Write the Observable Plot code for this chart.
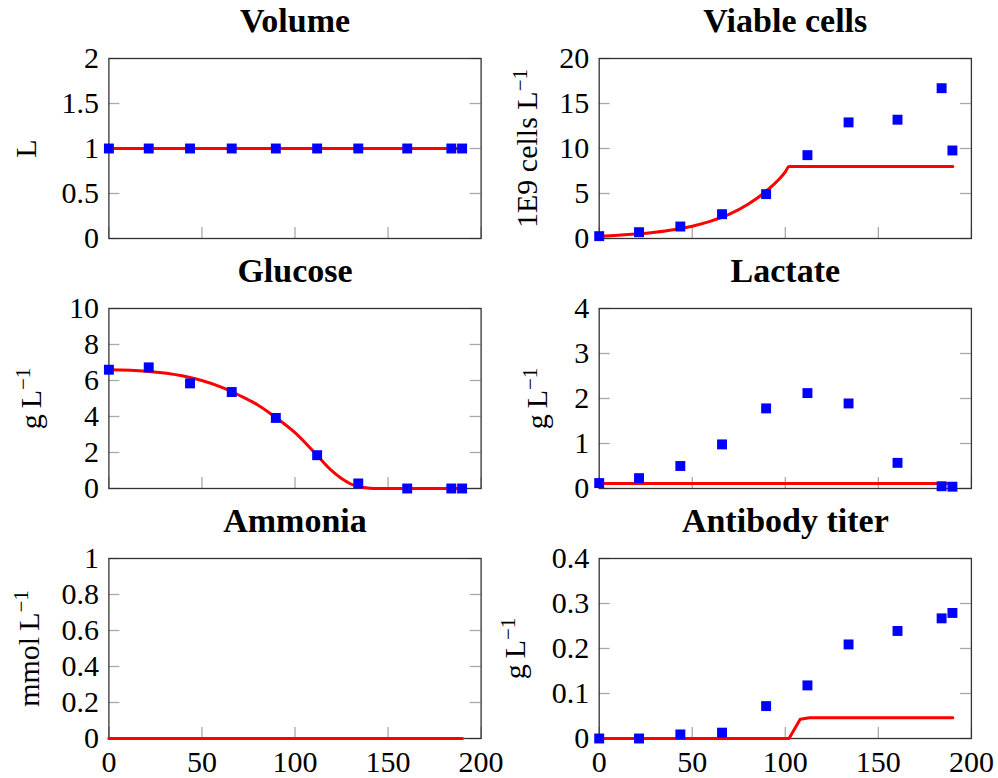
<!DOCTYPE html>
<html><head><meta charset="utf-8">
<script src="https://cdn.jsdelivr.net/npm/d3@7"></script>
<script src="https://cdn.jsdelivr.net/npm/@observablehq/plot@0.6"></script>
<style>
body{margin:0;background:#fff;}
#wrap{position:relative;width:998px;height:778px;overflow:hidden;background:#fff;font-family:"Liberation Serif",serif;}
#wrap svg{position:absolute;}
</style></head><body><div id="wrap"></div>
<script>
// Sampling times (h) of the measurements
const tObs = [0, 21.4, 43.6, 66, 89.7, 111.9, 134, 160.3, 184, 189.8];
// Measured values (blue squares)
const volumeObs   = [1, 1, 1, 1, 1, 1, 1, 1, 1, 1];
const viableObs   = [0.26, 0.7, 1.33, 2.7, 4.93, 9.26, 12.9, 13.2, 16.7, 9.78];
const glucoseObs  = [6.6, 6.73, 5.84, 5.36, 3.92, 1.85, 0.28, 0, 0, 0];
const lactateObs  = [0.12, 0.23, 0.5, 0.98, 1.78, 2.12, 1.89, 0.57, 0.05, 0.04];
const antibodyObs = [0, 0, 0.009, 0.013, 0.072, 0.118, 0.209, 0.239, 0.267, 0.279];

// Model curves (red lines)
const volumeModelT   = [0, 190];
const volumeModel    = [1, 1];
const viableModelT   = [0, 10, 20, 30, 40, 50, 60, 70, 80, 90, 100, 102, 190];
const viableModel    = [0.25, 0.35, 0.49, 0.69, 0.97, 1.37, 1.93, 2.7, 3.8, 5.3, 7.4, 8.0, 8.0];
const glucoseModelT  = [0, 20, 40, 60, 70, 80, 90, 100, 110, 120, 125, 130, 135, 140, 145, 190];
const glucoseModel   = [6.6, 6.52, 6.25, 5.65, 5.18, 4.64, 3.92, 3.1, 2.05, 0.96, 0.55, 0.25, 0.08, 0.02, 0, 0];
const lactateModelT  = [0, 190];
const lactateModel   = [0.11, 0.11];
const ammoniaModelT  = [0, 190];
const ammoniaModel   = [0, 0];
const antibodyModelT = [0, 102, 108, 113, 190];
const antibodyModel  = [0, 0, 0.043, 0.046, 0.046];

// Tick values
const xTicks        = [0, 50, 100, 150, 200];
const volumeTicks   = [0, 0.5, 1, 1.5, 2];
const viableTicks   = [0, 5, 10, 15, 20];
const glucoseTicks  = [0, 2, 4, 6, 8, 10];
const lactateTicks  = [0, 1, 2, 3, 4];
const ammoniaTicks  = [0, 0.2, 0.4, 0.6, 0.8, 1];
const antibodyTicks = [0, 0.1, 0.2, 0.3, 0.4];

const titles = ["Volume", "Viable cells", "Glucose", "Lactate", "Ammonia", "Antibody titer"];
const yLabels = ["L", "1E9 cells L", "g\u2009L", "g\u2009L", "mmol\u2009L", "g\u2009L"];
const ySups = ["", "\u22121", "\u22121", "\u22121", "\u22121", "\u22121"];

const FONT = "'Liberation Serif', 'DejaVu Serif', serif";
const zip = (xs, ys) => xs.map((x, i) => ({t: x, v: ys[i]}));

const panels = [
  {obs: volumeObs,   mt: volumeModelT,   mv: volumeModel,   ticks: volumeTicks,   curve: "linear",     labelDx: -73},
  {obs: viableObs,   mt: viableModelT,   mv: viableModel,   ticks: viableTicks,   curve: "monotone-x", labelDx: -62},
  {obs: glucoseObs,  mt: glucoseModelT,  mv: glucoseModel,  ticks: glucoseTicks,  curve: "monotone-x", labelDx: -68},
  {obs: lactateObs,  mt: lactateModelT,  mv: lactateModel,  ticks: lactateTicks,  curve: "linear",     labelDx: -52},
  {obs: null,        mt: ammoniaModelT,  mv: ammoniaModel,  ticks: ammoniaTicks,  curve: "linear",     labelDx: -70},
  {obs: antibodyObs, mt: antibodyModelT, mv: antibodyModel, ticks: antibodyTicks, curve: "linear",     labelDx: -74}
];

const wrap = document.getElementById("wrap");
const plotW = 372.2, plotH = 180;
const colLeft = [0, 496], colWidth = [496, 502], colMarginLeft = [108.4, 102.7];
const rowTop = [0, 250, 500];

panels.forEach((p, i) => {
  const col = i % 2, row = Math.floor(i / 2);
  const last = row === 2;
  const marginLeft = colMarginLeft[col];
  const width = colWidth[col];
  const marginRight = width - marginLeft - plotW;
  const marginTop = 58;
  const marginBottom = last ? 40 : 12;
  const height = marginTop + plotH + marginBottom;
  const tickStyle = {stroke: "#aaaaaa", strokeOpacity: 1, strokeWidth: 1.3};
  const marks = [
    Plot.gridY({ticks: p.ticks, ...tickStyle, insetRight: plotW - 11}),
    Plot.gridY({ticks: p.ticks, ...tickStyle, insetLeft: plotW - 11}),
    Plot.gridX({ticks: xTicks, ...tickStyle, insetTop: plotH - 11}),
    Plot.frame({stroke: "#333333", strokeWidth: 1.3}),
    Plot.line(zip(p.mt, p.mv), {x: "t", y: "v", stroke: "#ff0000", strokeWidth: 3, curve: p.curve}),
    p.obs ? Plot.dot(zip(tObs, p.obs), {x: "t", y: "v", symbol: "square", r: 5.6, fill: "#0000ff"}) : null,
    Plot.axisY({ticks: p.ticks, tickFormat: d => String(d), tickSize: 0, tickPadding: 10, label: null, fill: "#000", fontFamily: FONT}),
    last ? Plot.axisX({ticks: xTicks, tickFormat: d => String(d), tickSize: 0, tickPadding: 12, label: null, fill: "#000", fontFamily: FONT}) : null,
    Plot.text([titles[i]], {frameAnchor: "top", lineAnchor: "bottom", dy: -27, text: d => d, fontSize: 34, fontWeight: "bold", fill: "#000", fontFamily: FONT}),
    Plot.text([yLabels[i]], {frameAnchor: "left", rotate: -90, textAnchor: "middle", lineAnchor: "bottom", dx: p.labelDx, text: d => d, fontSize: 30, fill: "#000", fontFamily: FONT})
  ];
  const svg = Plot.plot({
    width, height, marginLeft, marginRight, marginTop, marginBottom,
    x: {domain: [0, 200], axis: null},
    y: {domain: [p.ticks[0], p.ticks[p.ticks.length - 1]], axis: null},
    style: {fontFamily: FONT, fontSize: "30px", background: "transparent", overflow: "visible", color: "#000"},
    marks
  });
  svg.style.left = colLeft[col] + "px";
  svg.style.top = rowTop[row] + "px";
  svg.style.maxWidth = "none";
  if (ySups[i]) {
    d3.select(svg).selectAll("text").filter(function () { return this.textContent === yLabels[i]; })
      .append("tspan").attr("dy", "-0.5em").attr("font-size", "0.7em").text(ySups[i]);
  }
  wrap.appendChild(svg);
});
</script>
</body></html>
